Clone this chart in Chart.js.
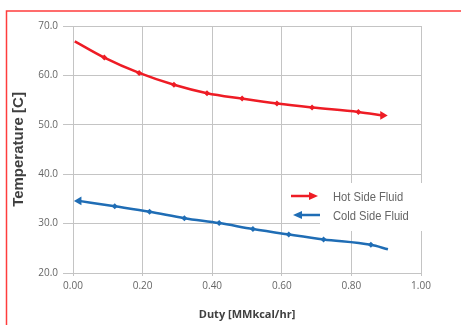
<!DOCTYPE html>
<html>
<head>
<meta charset="utf-8">
<script src="https://cdn.jsdelivr.net/npm/chart.js@4/dist/chart.umd.min.js"></script>
<style>
  html, body { margin: 0; padding: 0; background: #fff; }
  #wrap { width: 461px; height: 325px; position: relative; }
</style>
</head>
<body>
<div id="wrap"><canvas id="chart" width="461" height="325"></canvas></div>
<script>
const hotDuty = [0.005, 0.09, 0.19, 0.29, 0.385, 0.486, 0.586, 0.687, 0.82, 0.89];
const hotTemp = [66.9, 63.6, 60.5, 58.1, 56.4, 55.3, 54.3, 53.5, 52.6, 51.9];
const coldDuty = [0.017, 0.12, 0.22, 0.32, 0.42, 0.517, 0.62, 0.72, 0.856, 0.905];
const coldTemp = [34.6, 33.5, 32.4, 31.1, 30.1, 28.9, 27.8, 26.8, 25.7, 24.8];
const seriesNames = ["Hot Side Fluid", "Cold Side Fluid"];
const seriesColors = ["#ee1c25", "#1f6db5"];

const hotPoints = hotDuty.map((x, i) => ({ x: x, y: hotTemp[i] }));
const coldPoints = coldDuty.map((x, i) => ({ x: x, y: coldTemp[i] }));

// arrow head at the flow end, small diamonds in between
function markerStyle(ctx, arrowIndex) {
  return ctx.dataIndex === arrowIndex ? "triangle" : "rectRot";
}

const frameAndLegend = {
  id: "frameAndLegend",
  beforeDraw(chart) {
    const c = chart.ctx;
    c.save();
    c.fillStyle = "#fff";
    c.fillRect(0, 0, chart.width, chart.height);
    c.restore();
  },
  afterDraw(chart) {
    const c = chart.ctx;
    c.save();
    // red frame, only top and left visible
    c.strokeStyle = "#ff3c3c";
    c.lineWidth = 1.5;
    c.beginPath();
    c.moveTo(461, 11);
    c.lineTo(6.5, 11);
    c.lineTo(6.5, 325);
    c.stroke();

    // legend
    c.fillStyle = "#fff";
    c.fillRect(320, 183, 104, 48);
    const rows = [196, 215];
    seriesNames.forEach((name, i) => {
      const y = rows[i];
      c.strokeStyle = seriesColors[i];
      c.fillStyle = seriesColors[i];
      c.lineWidth = 2.5;
      c.beginPath();
      if (i === 0) {
        c.moveTo(291, y); c.lineTo(311, y);
        c.stroke();
        c.beginPath();
        c.moveTo(318, y); c.lineTo(309, y - 4); c.lineTo(309, y + 4);
      } else {
        c.moveTo(300, y); c.lineTo(320, y);
        c.stroke();
        c.beginPath();
        c.moveTo(293, y); c.lineTo(302, y - 4); c.lineTo(302, y + 4);
      }
      c.closePath();
      c.fill();
      c.fillStyle = "#666";
      c.font = "13px 'Liberation Sans', Arial, sans-serif";
      c.textBaseline = "middle";
      // the original legend font is a narrow face, squeeze it a little
      const w = c.measureText(name).width * 0.86;
      c.fillText(name, 333, y + 1, w);
    });
    c.restore();
  }
};

new Chart(document.getElementById("chart"), {
  type: "line",
  data: {
    datasets: [
      {
        label: seriesNames[0],
        data: hotPoints,
        borderColor: seriesColors[0],
        backgroundColor: seriesColors[0],
        borderWidth: 2.5,
        cubicInterpolationMode: "monotone",
        pointStyle: (ctx) => markerStyle(ctx, hotPoints.length - 1),
        pointRotation: (ctx) => (ctx.dataIndex === hotPoints.length - 1 ? 90 : 0),
        pointRadius: (ctx) => {
          if (ctx.dataIndex === 0) return 0;
          return ctx.dataIndex === hotPoints.length - 1 ? 5 : 3;
        },
        pointBorderWidth: 0
      },
      {
        label: seriesNames[1],
        data: coldPoints,
        borderColor: seriesColors[1],
        backgroundColor: seriesColors[1],
        borderWidth: 2.5,
        cubicInterpolationMode: "monotone",
        pointStyle: (ctx) => markerStyle(ctx, 0),
        pointRotation: (ctx) => (ctx.dataIndex === 0 ? -90 : 0),
        pointRadius: (ctx) => {
          if (ctx.dataIndex === coldPoints.length - 1) return 0;
          return ctx.dataIndex === 0 ? 5 : 3;
        },
        pointBorderWidth: 0
      }
    ]
  },
  options: {
    responsive: false,
    animation: false,
    layout: { padding: { top: 26, right: 40, left: 10, bottom: 0 } },
    plugins: {
      legend: { display: false },
      tooltip: { enabled: false }
    },
    scales: {
      x: {
        type: "linear",
        min: 0,
        max: 1,
        ticks: {
          stepSize: 0.2,
          color: "#666",
          font: { family: "'Open Sans', sans-serif", size: 10 },
          padding: 4,
          callback: (v) => v.toFixed(2)
        },
        grid: { color: "#c4c4c4", lineWidth: 1, tickLength: 3 },
        border: { color: "#c4c4c4" },
        title: {
          display: true,
          text: "Duty [MMkcal/hr]",
          color: "#404040",
          font: { family: "'Open Sans', sans-serif", size: 11, weight: "bold" },
          padding: { top: 2 }
        },
        afterFit: (s) => { s.height = 52; }
      },
      y: {
        min: 20,
        max: 70,
        ticks: {
          stepSize: 10,
          color: "#666",
          font: { family: "'Open Sans', sans-serif", size: 10 },
          padding: 5,
          callback: (v) => v.toFixed(1)
        },
        grid: { color: "#c4c4c4", lineWidth: 1, tickLength: 10 },
        border: { color: "#c4c4c4" },
        title: {
          display: true,
          text: "Temperature [C]",
          color: "#404040",
          font: { family: "'Liberation Sans', Arial, sans-serif", size: 15, weight: "bold" },
          padding: { top: 0, bottom: 0 }
        },
        afterFit: (s) => { s.width = 63; }
      }
    }
  },
  plugins: [frameAndLegend]
});
</script>
</body>
</html>
